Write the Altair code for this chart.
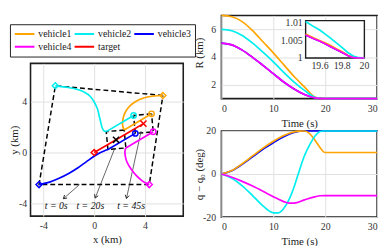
import altair as alt
import numpy as np
import pandas as pd

FONT = "Liberation Serif"

# ---------------- series / colours ----------------
names = ["vehicle1", "vehicle2", "vehicle3", "vehicle4", "target"]
colors = ["#FFA500", "#00EEEE", "#0000FF", "#FF00FF", "#FF0000"]
COL = dict(zip(names, colors))

# ---------------- left panel: trajectories (km) ----------------
# curved part, t = 0 .. 20 s
v1_x = [5.40, 4.70, 3.95, 3.30, 2.85, 2.52, 2.33, 2.24, 2.24, 2.36]
v1_y = [4.48, 4.44, 4.30, 4.03, 3.70, 3.30, 2.88, 2.48, 2.10, 1.77]
v2_x = [-3.05, -2.04, -1.30, -0.76, -0.30, 0.00, 0.25, 0.38, 0.50, 0.63, 0.75, 0.95]
v2_y = [5.24, 5.11, 4.95, 4.73, 4.40, 3.97, 3.45, 2.95, 2.45, 1.94, 1.72, 1.64]
v3_x = [-4.33, -3.50, -2.80, -2.00, -1.27, -0.60, 0.00, 0.50, 0.85, 1.08]
v3_y = [-2.52, -2.33, -2.05, -1.65, -1.20, -0.72, -0.30, 0.00, 0.15, 0.23]
v4_x = [4.33, 3.80, 3.30, 2.90, 2.60, 2.45, 2.42, 2.49]
v4_y = [-2.52, -2.25, -1.80, -1.30, -0.80, -0.30, 0.10, 0.36]
# positions at t = 45 s (straight part from t = 20 s)
p45_x = [4.51, 3.10, 3.23, 4.64]
p45_y = [3.04, 2.91, 1.50, 1.63]
# target at t = 0, 20, 45 s
tgt_x = [0.00, 1.72, 3.87]
tgt_y = [0.00, 1.00, 2.27]

# annotations
ann_text = ["t = 0s", "t = 20s", "t = 45s"]
ann_x = [-2.98, -0.30, 2.90]
ann_y = [-4.22, -4.22, -4.22]
arr_x0 = [-1.15, 1.60, 3.69]
arr_y0 = [-2.52, 0.28, 1.68]
arr_x1 = [-2.42, 0.08, 2.54]
arr_y1 = [-3.63, -3.58, -3.61]

# ---------------- right top: R (km) ----------------
r_t = [0, 2, 4, 6, 8, 10, 12, 14, 16, 18, 19, 20, 25, 30]
r_v1 = [7.00, 6.90, 6.55, 5.90, 5.10, 4.30, 3.45, 2.60, 1.85, 1.12, 1.02, 1.00, 1.00, 1.00]
r_v2 = [6.00, 5.90, 5.55, 5.00, 4.35, 3.65, 2.90, 2.20, 1.60, 1.10, 1.03, 1.00, 1.00, 1.00]
r_v3 = [5.00, 4.88, 4.50, 3.98, 3.40, 2.80, 2.20, 1.70, 1.30, 1.06, 1.015, 1.00, 1.00, 1.00]
r_v4 = [5.00, 4.88, 4.50, 3.98, 3.40, 2.80, 2.20, 1.70, 1.30, 1.06, 1.015, 1.00, 1.00, 1.00]
# inset (zoom near t = 20 s)
ins_t = [19.47, 19.55, 19.60, 19.65, 19.70, 19.75, 19.80, 19.85, 19.90, 19.95, 20.00]
ins_v1 = [1.0069, 1.0057, 1.0050, 1.0043, 1.0035, 1.0026, 1.0018, 1.0008, 1.0002, 1.0000, 1.0000]
ins_v2 = [1.0105, 1.0089, 1.0080, 1.0068, 1.0056, 1.0043, 1.0030, 1.0016, 1.0006, 1.0001, 1.0000]
ins_v3 = [1.0066, 1.0055, 1.0048, 1.0040, 1.0032, 1.0024, 1.0016, 1.0007, 1.0001, 1.0000, 1.0000]
ins_v4 = [1.0066, 1.0055, 1.0048, 1.0040, 1.0032, 1.0024, 1.0016, 1.0007, 1.0001, 1.0000, 1.0000]
ins_xlim = [19.47, 20.0]
ins_ylim = [1.0, 1.01076]
ins_xticks = [19.6, 19.8, 20.0]
ins_xtick_labels = ["19.6", "19.8", "20"]
ins_yticks = [1.0, 1.005, 1.01]
ins_ytick_labels = ["1", "1.005", "1.01"]

# ---------------- right bottom: q - q0 (deg) ----------------
q1_t = [0, 2, 4, 6, 8, 10, 12, 14, 15, 16, 17, 18, 19, 19.7, 20, 30]
q1_v = [0, 1.6, 4.8, 8.4, 12.0, 15.2, 17.9, 19.6, 19.95, 20, 18.8, 15.8, 12.3, 10.3, 10, 10]
q2_t = [0, 2, 4, 6, 8, 10, 11, 12, 13, 14, 14.8, 16, 17, 18, 19, 19.6, 20, 30]
q2_v = [0, -2, -5.5, -10, -14.8, -18, -18, -16, -12, -6, 0, 8.5, 13.5, 17.5, 19.7, 20, 20, 20]
q3_t = [0, 2, 4, 6, 8, 10, 12, 14, 16, 17, 20, 30]
q3_v = [0, 1.5, 4.5, 8.0, 11.5, 14.5, 17.3, 19.3, 20, 20, 20, 20]
q4_t = [0, 2, 4, 6, 8, 10, 12, 13, 14, 16, 18, 19, 20, 30]
q4_v = [0, -1.5, -3.4, -5.6, -8.0, -10.5, -12.8, -13.5, -13.5, -12.0, -10.6, -10.1, -10, -10]

# ================= build tables =================
cx = [v1_x, v2_x, v3_x, v4_x]
cy = [v1_y, v2_y, v3_y, v4_y]
veh = names[:4]

curve_rows = []
for n, xs, ys in zip(veh, cx, cy):
    for i, (a, b) in enumerate(zip(xs, ys)):
        curve_rows.append(dict(series=n, i=i, x=a, y=b))
for i, (a, b) in enumerate(zip(tgt_x, tgt_y)):
    curve_rows.append(dict(series="target", i=i, x=a, y=b))
curves = pd.DataFrame(curve_rows)

straight = pd.DataFrame(
    [dict(seg=n, i=0, x=xs[-1], y=ys[-1], col=COL[n]) for n, xs, ys in zip(veh, cx, cy)]
    + [dict(seg=n, i=1, x=p45_x[k], y=p45_y[k], col=COL[n]) for k, n in enumerate(veh)]
)

p20_x = [xs[-1] for xs in cx]
p20_y = [ys[-1] for ys in cy]
p0_x = [xs[0] for xs in cx]
p0_y = [ys[0] for ys in cy]
poly_rows = []
for g, (px, py) in enumerate([(p0_x, p0_y), (p20_x, p20_y), (p45_x, p45_y)]):
    for i, k in enumerate([0, 1, 2, 3, 0]):
        poly_rows.append(dict(g=g, i=i, x=px[k], y=py[k]))
polys = pd.DataFrame(poly_rows)

starts = pd.DataFrame(dict(x=p0_x + [tgt_x[0]], y=p0_y + [tgt_y[0]],
                           col=[COL[n] for n in veh] + [COL["target"]]))
ends = pd.DataFrame(dict(x=p45_x, y=p45_y, col=[COL[n] for n in veh]))
crosses = pd.DataFrame(dict(x=tgt_x[1:], y=tgt_y[1:], col=["#000000", COL["target"]]))

ann = pd.DataFrame(dict(text=ann_text, x=ann_x, y=ann_y))
arr_rows = []
for k in range(3):
    arr_rows.append(dict(a=k, i=0, x=arr_x0[k], y=arr_y0[k]))
    arr_rows.append(dict(a=k, i=1, x=arr_x1[k], y=arr_y1[k]))
arrows = pd.DataFrame(arr_rows)
heads = pd.DataFrame(dict(
    x=arr_x1, y=arr_y1,
    ang=[float(np.degrees(np.arctan2(-(x1 - x0), -(y1 - y0))) % 360)
         for x0, y0, x1, y1 in zip(arr_x0, arr_y0, arr_x1, arr_y1)]))

# ---- right panels geometry ----
RW, RH1, RH2 = 159, 85, 88
R_XDOM, R_YDOM = [0, 30], [1, 7]
# inset box placement inside the R panel, as fractions of the panel
BOX_L, BOX_R = 86 / RW, 146 / RW          # left / right edge
BOX_B, TICK_TOP = 43.5 / RH1, 8.0 / RH1   # bottom edge (value 1) and the 1.01 tick, from top

def inset_to_main_t(t):
    f = BOX_L + (np.asarray(t, float) - ins_xlim[0]) / (ins_xlim[1] - ins_xlim[0]) * (BOX_R - BOX_L)
    return R_XDOM[0] + f * (R_XDOM[1] - R_XDOM[0])

def inset_to_main_v(v):
    f = BOX_B - (np.asarray(v, float) - 1.0) / 0.01 * (BOX_B - TICK_TOP)
    return R_YDOM[1] - f * (R_YDOM[1] - R_YDOM[0])

def long_table(ts, vals_list, order_names, tf=None, vf=None):
    rows = []
    for n, tt, vv in zip(order_names, ts, vals_list):
        tt2 = tf(tt) if tf else tt
        vv2 = vf(vv) if vf else vv
        for a, b in zip(tt2, vv2):
            rows.append(dict(series=n, t=float(a), v=float(b), col=COL[n]))
    return pd.DataFrame(rows)

# draw vehicle3 first so vehicle4 lies on top of it (as in the figure)
draw_order = ["vehicle3", "vehicle1", "vehicle2", "vehicle4"]
rdat = long_table([r_t] * 4, [r_v3, r_v1, r_v2, r_v4], draw_order)
idat = long_table([ins_t] * 4, [ins_v3, ins_v1, ins_v2, ins_v4], draw_order,
                  inset_to_main_t, inset_to_main_v)
qdat = long_table([q3_t, q1_t, q2_t, q4_t], [q3_v, q1_v, q2_v, q4_v], draw_order)
box_t = inset_to_main_t(ins_xlim)
box_v = inset_to_main_v(ins_ylim)
inset_box = pd.DataFrame(dict(t=[box_t[0]], t2=[box_t[1]], v=[box_v[0]], v2=[box_v[1]]))
ixl = pd.DataFrame(dict(t=inset_to_main_t(ins_xticks), v=[box_v[0]] * 3, text=ins_xtick_labels))
iyl = pd.DataFrame(dict(t=[box_t[0]] * 3, v=inset_to_main_v(ins_yticks), text=ins_ytick_labels))

# ================= styling helpers =================
FIX = "replace(datum.label, '\u2212', '-')"
AX = dict(labelFont=FONT, labelFontSize=10, labelColor="#333333", titleFont=FONT,
          titleFontSize=11, titleFontWeight="normal", titleColor="#222222",
          grid=True, gridColor="#e0e0e0", gridWidth=1, domain=False, ticks=False)
FRAME = alt.ViewBackground(stroke="#1e1e1e", strokeWidth=1.6)

# ================= left panel =================
LW, LH = 156, 156
xs_l = alt.Scale(domain=[-5, 7], nice=False, zero=False)
ys_l = alt.Scale(domain=[-5, 7], nice=False, zero=False)
Xl = alt.X("x:Q", scale=xs_l, axis=alt.Axis(values=[-4, -2, 0, 2, 4, 6], title="x (km)",
                                             labelPadding=5, titlePadding=3, labelExpr=FIX, **AX))
Yl = alt.Y("y:Q", scale=ys_l, axis=alt.Axis(values=[-4, -2, 0, 2, 4, 6], title="y (km)",
                                             labelPadding=4, titleX=-11, titleY=LH / 2,
                                             labelExpr=FIX, **AX))

legend = alt.Legend(orient="none", legendX=-21, legendY=9, direction="horizontal", columns=3,
                    title=None, symbolType="stroke", symbolSize=400, symbolStrokeWidth=2,
                    clipHeight=12, labelFont=FONT, labelFontSize=10, labelColor="#222222",
                    strokeColor="#222222", fillColor="white", padding=4, rowPadding=1,
                    columnPadding=2, labelOffset=3)

poly_l = alt.Chart(polys).mark_line(color="black", strokeDash=[5, 3], strokeWidth=1.5).encode(
    x=Xl, y=Yl, detail="g:N", order="i:Q")
arrow_l = alt.Chart(arrows).mark_line(color="#222222", strokeWidth=0.7).encode(
    x="x:Q", y="y:Q", detail="a:N", order="i:Q")
head_l = alt.Chart(heads).mark_point(shape="M-0.6,-1L0,0L0.6,-1", filled=False, size=45,
                                     color="#222222", strokeWidth=0.9, opacity=1).encode(
    x="x:Q", y="y:Q", angle=alt.Angle("ang:Q", scale=None))
curve_l = alt.Chart(curves).mark_line(strokeWidth=1.7, interpolate="catmull-rom").encode(
    x="x:Q", y="y:Q", order="i:Q",
    color=alt.Color("series:N", scale=alt.Scale(domain=names, range=colors), legend=legend))
straight_l = alt.Chart(straight).mark_line(strokeWidth=1.7).encode(
    x="x:Q", y="y:Q", detail="seg:N", order="i:Q", color=alt.Color("col:N", scale=None))
start_l = alt.Chart(starts).mark_point(shape="diamond", filled=False, size=38, strokeWidth=1.5,
                                       opacity=1).encode(
    x="x:Q", y="y:Q", color=alt.Color("col:N", scale=None))
end_l = alt.Chart(ends).mark_point(shape="circle", filled=False, size=30, strokeWidth=1.5,
                                   opacity=1).encode(
    x="x:Q", y="y:Q", color=alt.Color("col:N", scale=None))
cross_l = alt.Chart(crosses).mark_point(shape="M-1,-1L1,1M-1,1L1,-1", filled=False, size=40,
                                        strokeWidth=1.5, opacity=1).encode(
    x="x:Q", y="y:Q", color=alt.Color("col:N", scale=None))
text_l = alt.Chart(ann).mark_text(font=FONT, fontSize=10, fontStyle="italic", color="#111111").encode(
    x="x:Q", y="y:Q", text="text:N")

left = alt.layer(poly_l, arrow_l, head_l, curve_l, straight_l, start_l, end_l, cross_l, text_l).properties(
    width=LW, height=LH, view=FRAME)

spacer = alt.Chart(pd.DataFrame({"a": [0]})).mark_point(opacity=0).encode(
    x=alt.X("a:Q", axis=None), y=alt.Y("a:Q", axis=None)).properties(
    width=LW, height=41, view=alt.ViewBackground(stroke=None))

# ================= right top: R =================
Xt = alt.X("t:Q", scale=alt.Scale(domain=R_XDOM, nice=False),
           axis=alt.Axis(values=[0, 10, 20, 30], title="Time (s)", labelPadding=5,
                         titlePadding=4, **AX))
Yr = alt.Y("v:Q", scale=alt.Scale(domain=R_YDOM, nice=False, zero=False),
           axis=alt.Axis(values=[2, 4, 6], title="R (km)", labelPadding=6,
                         titleX=-17, titleY=38, **AX))
r_main = alt.Chart(rdat).mark_line(strokeWidth=1.7, interpolate="monotone").encode(
    x=Xt, y=Yr, detail="series:N", color=alt.Color("col:N", scale=None))
i_box = alt.Chart(inset_box).mark_rect(fill="white", stroke="#1e1e1e", strokeWidth=1.4).encode(
    x="t:Q", x2="t2:Q", y="v:Q", y2="v2:Q")
i_lines = alt.Chart(idat).mark_line(strokeWidth=1.7).encode(
    x="t:Q", y="v:Q", detail="series:N", color=alt.Color("col:N", scale=None))
i_xl = alt.Chart(ixl).mark_text(font=FONT, fontSize=10, color="#333333", baseline="top", dy=3).encode(
    x="t:Q", y="v:Q", text="text:N")
i_yl = alt.Chart(iyl).mark_text(font=FONT, fontSize=10, color="#333333", align="right",
                                baseline="middle", dx=-3).encode(
    x="t:Q", y="v:Q", text="text:N")
rtop = alt.layer(r_main, i_box, i_lines, i_xl, i_yl).properties(width=RW, height=RH1, view=FRAME)

# ================= right bottom: q - q0 =================
Xt2 = alt.X("t:Q", scale=alt.Scale(domain=R_XDOM, nice=False),
            axis=alt.Axis(values=[0, 10, 20, 30], title="Time (s)", labelPadding=5,
                          titlePadding=4, **AX))
Yq = alt.Y("v:Q", scale=alt.Scale(domain=[-20, 20], nice=False),
           axis=alt.Axis(values=[-20, 0, 20], title="q \u2212 q\u2080 (deg)", labelPadding=6,
                         titleX=-17, titleY=RH2 / 2, labelExpr=FIX, **AX))
rbot = alt.Chart(qdat).mark_line(strokeWidth=1.7, interpolate="monotone").encode(
    x=Xt2, y=Yq, detail="series:N", color=alt.Color("col:N", scale=None)).properties(
    width=RW, height=RH2, view=FRAME)

left_col = alt.VConcatChart(vconcat=[spacer, left], spacing=8, bounds="flush")
right_col = alt.VConcatChart(vconcat=[rtop, rbot], spacing=33, bounds="flush")
chart = alt.HConcatChart(hconcat=[left_col, right_col], spacing=9).properties(
    padding=0).configure_view(stroke=None).configure(font=FONT)

chart.save("out.html", embed_options={"renderer": "svg", "actions": False})
